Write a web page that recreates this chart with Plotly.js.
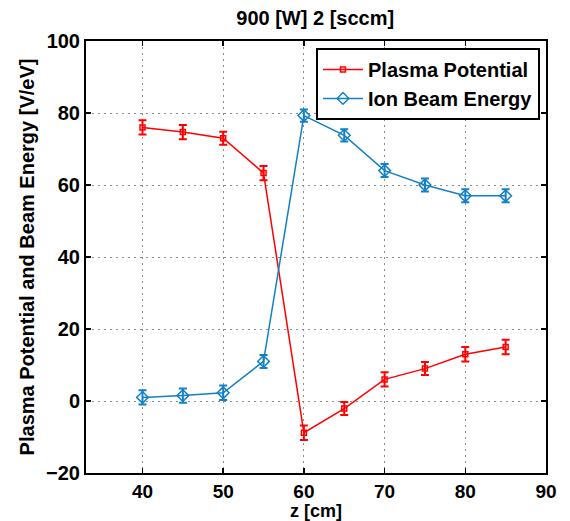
<!DOCTYPE html>
<html>
<head>
<meta charset="utf-8">
<script src="https://cdn.plot.ly/plotly-3.0.1.min.js"></script>
<style>html,body{margin:0;padding:0;background:#fff;}#chart{width:570px;height:521px;}</style>
</head>
<body>
<div id="chart"></div>
<script>
const z = [40, 45, 50, 55, 60, 65, 70, 75, 80, 85];
const plasmaPotential = [76, 74.7, 73, 63.3, -8.8, -2.1, 6, 9, 13, 15];
const plasmaErr = [2, 2, 1.8, 2, 2, 1.8, 2, 1.8, 2, 2];
const ionBeamEnergy = [1, 1.5, 2.3, 11, 79.3, 73.8, 64, 60, 57, 57];
const ionErr = [2, 2, 2, 1.8, 1.7, 1.7, 1.8, 1.8, 1.8, 1.8];
const xTicks = [40, 50, 60, 70, 80, 90];
const yTicks = [-20, 0, 20, 40, 60, 80, 100];
const xTitle = 'z [cm]';

const red = '#ff0000';
const blue = '#1380c6';
const font = 'Liberation Sans, Arial, Helvetica, sans-serif';

const traces = [
  {
    x: z, y: plasmaPotential, name: 'Plasma Potential', type: 'scatter', mode: 'lines+markers',
    line: {color: red, width: 1.5},
    marker: {symbol: 'square-open', size: 5, color: red, line: {width: 1.5, color: red}},
    error_y: {type: 'data', array: plasmaErr, visible: true, color: red, thickness: 2, width: 4}
  },
  {
    x: z, y: ionBeamEnergy, name: 'Ion Beam Energy', type: 'scatter', mode: 'lines+markers',
    line: {color: blue, width: 1.5},
    marker: {symbol: 'diamond-open', size: 9, color: blue, line: {width: 1.5, color: blue}},
    error_y: {type: 'data', array: ionErr, visible: true, color: blue, thickness: 2, width: 4}
  }
];

const axisCommon = {
  showline: true, linecolor: '#000', linewidth: 2, mirror: 'ticks',
  ticks: 'inside', ticklen: 5, tickwidth: 1.5, tickcolor: '#000',
  showgrid: true, gridcolor: '#8c8c8c', griddash: '1.5px,4.5px', gridwidth: 1,
  zeroline: false,
  tickfont: {family: font, size: 20, color: '#000', weight: 'bold'}
};

const layout = {
  width: 570, height: 521,
  margin: {l: 86, r: 24, t: 41, b: 48},
  paper_bgcolor: '#fff', plot_bgcolor: '#fff',
  font: {family: font, color: '#000'},
  title: {text: '900 [W] 2 [sccm]', font: {family: font, size: 20, color: '#000', weight: 'bold'}, x: 0.553, xanchor: 'center', y: 0.965, yanchor: 'middle'},
  xaxis: Object.assign({}, axisCommon, {
    range: [33, 90], tickvals: xTicks, ticktext: xTicks.map(String),
    tickfont: {family: font, size: 19, color: '#000', weight: 'bold'}
  }),
  yaxis: Object.assign({}, axisCommon, {
    range: [-20, 100], tickvals: yTicks, ticktext: yTicks.map(v => v < 0 ? '\u2212' + Math.abs(v) : String(v)),
    title: {text: 'Plasma Potential and Beam Energy [V/eV]', font: {family: font, size: 20, color: '#000', weight: 'bold'}, standoff: 6}
  }),
  annotations: [{
    text: xTitle, xref: 'paper', yref: 'paper', x: 0.5, y: -0.113,
    xanchor: 'center', yanchor: 'bottom', showarrow: false,
    font: {family: font, size: 18, color: '#000', weight: 'bold'}, borderpad: 0
  }],
  showlegend: true,
  legend: {
    x: 0.5, y: 0.984, xanchor: 'left', yanchor: 'top',
    bgcolor: '#fff', bordercolor: '#000', borderwidth: 2,
    font: {family: font, size: 20, color: '#000', weight: 'bold'},
    tracegroupgap: 0, itemwidth: 40
  }
};

Plotly.newPlot('chart', traces, layout, {displayModeBar: false, staticPlot: true});
</script>
</body>
</html>
